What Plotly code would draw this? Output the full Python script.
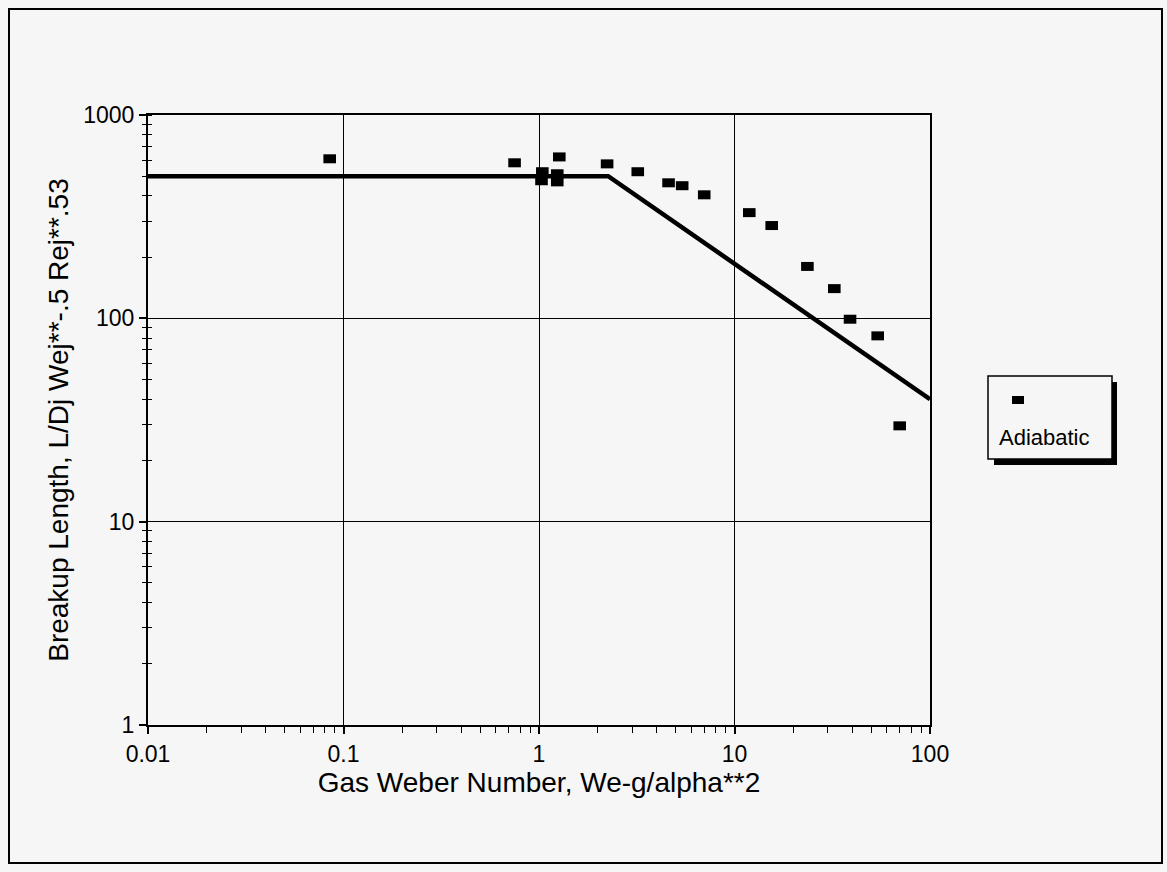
import plotly.graph_objects as go

# Adiabatic breakup-length measurements
weber_gas = [0.085, 0.75, 1.04, 1.03, 1.24, 1.24, 1.27, 2.23, 3.2, 4.6, 5.4, 7.0,
             11.9, 15.5, 23.6, 32.4, 39.0, 54.0, 70.0]
breakup_len = [609, 582, 526, 475, 514, 469, 622, 575, 526, 464, 449, 405,
               331, 286, 180, 140, 99, 82, 29.6]

# Correlation line: plateau, then power-law decay
corr_x = [0.01, 2.26, 100]
corr_y = [500, 500, 40]

x_ticks = [0.01, 0.1, 1, 10, 100]
x_tick_text = ["0.01", "0.1", "1", "10", "100"]
y_ticks = [1, 10, 100, 1000]
y_tick_text = ["1", "10", "100", "1000"]

W, H = 1167, 872
L, R, T, B = 148, 930, 115, 725
BG = "#f6f6f6"
FONT = "Liberation Sans, Arial, sans-serif"


def px(xp):
    return (xp - L) / (R - L)


def py(yp):
    return (B - yp) / (B - T)


fig = go.Figure()

fig.add_trace(go.Scatter(
    x=corr_x, y=corr_y, mode="lines",
    line=dict(color="black", width=4.5),
    showlegend=False, hoverinfo="skip",
))
fig.add_trace(go.Scatter(
    x=weber_gas, y=breakup_len, mode="markers", name="Adiabatic",
    marker=dict(symbol="line-ew", size=9,
                line=dict(color="black", width=9)),
    showlegend=False,
))
# carrier for the overlaid axis that draws the inner half of the minor ticks
fig.add_trace(go.Scatter(x=[], y=[], yaxis="y2", showlegend=False))

shapes = [
    # outer frame
    dict(type="rect", xref="paper", yref="paper",
         x0=px(9), x1=px(1162), y0=py(863), y1=py(9),
         line=dict(color="black", width=2), layer="below"),
    # legend shadow and box
    dict(type="rect", xref="paper", yref="paper",
         x0=px(994), x1=px(1117), y0=py(465), y1=py(382),
         line=dict(width=0), fillcolor="black"),
    dict(type="rect", xref="paper", yref="paper",
         x0=px(988), x1=px(1112), y0=py(459), y1=py(376),
         line=dict(color="black", width=1.5), fillcolor=BG),
    # legend symbol
    dict(type="rect", xref="paper", yref="paper",
         x0=px(1012), x1=px(1024), y0=py(404), y1=py(396),
         line=dict(width=0), fillcolor="black"),
]

fig.update_layout(
    width=W, height=H,
    margin=dict(l=L, r=W - R, t=T, b=H - B),
    paper_bgcolor=BG, plot_bgcolor=BG,
    font=dict(family=FONT, color="black"),
    showlegend=False,
    shapes=shapes,
    annotations=[dict(
        text="Adiabatic", xref="paper", yref="paper",
        x=px(1044), y=py(437), xanchor="center", yanchor="middle",
        showarrow=False,
        font=dict(size=22, family=FONT, color="black"),
    )],
    xaxis=dict(
        type="log", range=[-2, 2],
        tickvals=x_ticks, ticktext=x_tick_text,
        tickfont=dict(size=23),
        ticks="outside", ticklen=7, tickcolor="black", tickwidth=1.5,
        minor=dict(ticks="outside", ticklen=6, tickcolor="black",
                   tickwidth=1.2, dtick="D1", showgrid=False),
        showgrid=True, gridcolor="black", gridwidth=1.2,
        showline=True, linecolor="black", linewidth=2, mirror=True,
        zeroline=False,
        title=dict(text="Gas Weber Number, We-g/alpha**2",
                   font=dict(size=28), standoff=0),
    ),
    yaxis=dict(
        type="log", range=[0, 3],
        tickvals=y_ticks, ticktext=y_tick_text,
        tickfont=dict(size=23),
        ticks="outside", ticklen=7, tickcolor="black", tickwidth=1.5,
        minor=dict(ticks="outside", ticklen=4, tickcolor="black",
                   tickwidth=1.2, dtick="D1", showgrid=False),
        showgrid=True, gridcolor="black", gridwidth=1.2,
        showline=True, linecolor="black", linewidth=2, mirror=True,
        zeroline=False,
        title=dict(text="Breakup Length, L/Dj Wej**-.5 Rej**.53",
                   font=dict(size=28), standoff=6),
    ),
    yaxis2=dict(
        type="log", range=[0, 3], overlaying="y", anchor="x", side="left",
        showticklabels=False, showgrid=False, showline=False,
        ticks="", tickvals=[],
        minor=dict(ticks="inside", ticklen=4, tickcolor="black",
                   tickwidth=1.2, dtick="D1", showgrid=False),
        zeroline=False,
    ),
)

fig.write_html("out.html")
